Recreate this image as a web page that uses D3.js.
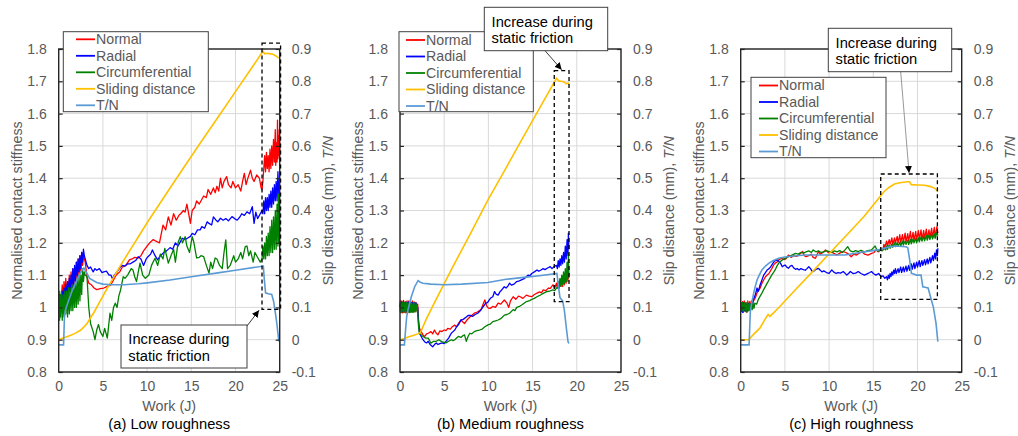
<!DOCTYPE html>
<html><head><meta charset="utf-8">
<script src="https://cdn.jsdelivr.net/npm/d3@7"></script>
<style>body{margin:0;background:#fff;} text{font-family:"Liberation Sans",Arial,sans-serif;}</style>
</head><body><svg id="c" width="1018" height="436"></svg>
<script>
// ---------- tick labels / categories ----------
const xTicks = [0, 5, 10, 15, 20, 25];
const leftTicks = [0.8, 0.9, 1.0, 1.1, 1.2, 1.3, 1.4, 1.5, 1.6, 1.7, 1.8];
const rightTicks = [-0.1, 0, 0.1, 0.2, 0.3, 0.4, 0.5, 0.6, 0.7, 0.8, 0.9];
const seriesNames = ["Normal", "Radial", "Circumferential", "Sliding distance", "T/N"];
const seriesColors = ["#FF0000", "#0000FF", "#008000", "#FFC000", "#5B9BD5"];
const captions = ["(a) Low roughness", "(b) Medium roughness", "(c) High roughness"];

// ---------- (a) Low roughness ----------
const aNormal = [[0.3,1.03],[0.4,1.07],[0.5,1.02],[0.6,1.08],[0.7,1.04],[0.8,1.09],[0.9,1.03],[1.0,1.08],[1.1,1.05],[1.2,1.10],[1.3,1.05],[1.4,1.11],[1.5,1.06],[1.6,1.12],[1.7,1.07],[1.8,1.12],[1.9,1.08],[2.0,1.14],[2.1,1.09],[2.2,1.15],[2.3,1.10],[2.4,1.16],[2.5,1.11],[2.6,1.17],[2.7,1.13],[2.8,1.16],[2.9,1.15],[3.0,1.14],[3.2,1.095],[3.4,1.075],[3.7,1.07],[4.0,1.06],[4.3,1.055],[4.7,1.058],[5.1,1.06],[5.5,1.065],[5.9,1.07],[6.2,1.085],[6.5,1.1],[6.9,1.11],[7.2,1.125],[7.6,1.13],[8.0,1.147],[8.3,1.15],[8.6,1.155],[9.0,1.153],[9.3,1.16],[9.6,1.175],[10.0,1.19],[10.3,1.2],[10.7,1.21],[11.0,1.205],[11.4,1.2],[11.8,1.255],[12.1,1.24],[12.4,1.28],[12.7,1.255],[13.0,1.29],[13.3,1.27],[13.6,1.285],[13.8,1.29],[14.1,1.30],[14.3,1.295],[14.5,1.32],[14.7,1.29],[14.9,1.26],[15.1,1.30],[15.4,1.31],[15.6,1.33],[15.9,1.32],[16.1,1.33],[16.4,1.345],[16.7,1.34],[16.9,1.365],[17.2,1.35],[17.5,1.37],[17.7,1.355],[17.9,1.375],[18.1,1.36],[18.3,1.40],[18.5,1.37],[18.7,1.39],[19.0,1.405],[19.2,1.38],[19.5,1.37],[19.7,1.39],[20.0,1.37],[20.3,1.38],[20.6,1.36],[20.8,1.39],[21.0,1.415],[21.2,1.38],[21.4,1.40],[21.7,1.425],[21.9,1.40],[22.1,1.39],[22.4,1.41],[22.7,1.40],[22.9,1.37],[23.0,1.365],[23.1,1.39],[23.2,1.43],[23.3,1.47],[23.4,1.42],[23.5,1.48],[23.6,1.43],[23.7,1.47],[23.8,1.42],[23.9,1.49],[24.0,1.43],[24.1,1.50],[24.2,1.44],[24.3,1.52],[24.4,1.45],[24.5,1.55],[24.55,1.44],[24.6,1.51],[24.7,1.45],[24.75,1.58],[24.8,1.46],[24.85,1.53],[24.9,1.47],[24.95,1.55],[25.0,1.48]];
const aRadial = [[0.3,1.02],[0.4,1.05],[0.5,1.01],[0.6,1.06],[0.7,1.03],[0.8,1.07],[0.9,1.03],[1.0,1.08],[1.1,1.04],[1.2,1.09],[1.3,1.05],[1.4,1.10],[1.5,1.06],[1.6,1.12],[1.7,1.07],[1.8,1.13],[1.9,1.08],[2.0,1.14],[2.1,1.10],[2.2,1.15],[2.3,1.11],[2.4,1.16],[2.5,1.12],[2.6,1.17],[2.7,1.14],[2.8,1.18],[2.9,1.16],[3.0,1.15],[3.2,1.13],[3.4,1.12],[3.6,1.125],[3.9,1.11],[4.1,1.12],[4.3,1.115],[4.6,1.12],[4.9,1.108],[5.1,1.11],[5.4,1.112],[5.7,1.10],[5.9,1.10],[6.1,1.088],[6.3,1.10],[6.6,1.11],[7.0,1.126],[7.2,1.13],[7.5,1.128],[7.8,1.135],[8.1,1.135],[8.4,1.14],[8.7,1.145],[9.0,1.157],[9.3,1.15],[9.6,1.13],[9.9,1.15],[10.1,1.157],[10.4,1.165],[10.6,1.178],[10.9,1.16],[11.2,1.147],[11.5,1.16],[11.9,1.17],[12.2,1.175],[12.6,1.185],[12.9,1.18],[13.2,1.20],[13.5,1.19],[13.8,1.205],[14.0,1.214],[14.3,1.21],[14.6,1.215],[14.9,1.22],[15.1,1.229],[15.4,1.225],[15.7,1.24],[16.0,1.24],[16.2,1.25],[16.5,1.245],[16.8,1.265],[17.0,1.26],[17.3,1.255],[17.5,1.28],[17.8,1.27],[18.0,1.265],[18.3,1.276],[18.6,1.27],[18.9,1.275],[19.2,1.268],[19.6,1.281],[19.9,1.275],[20.2,1.27],[20.5,1.28],[20.7,1.29],[21.0,1.285],[21.3,1.296],[21.6,1.29],[21.9,1.312],[22.1,1.26],[22.3,1.295],[22.5,1.275],[22.8,1.29],[23.0,1.30],[23.1,1.29],[23.2,1.33],[23.3,1.29],[23.4,1.34],[23.5,1.30],[23.6,1.34],[23.7,1.30],[23.8,1.35],[23.9,1.31],[24.0,1.36],[24.1,1.31],[24.2,1.37],[24.3,1.32],[24.4,1.38],[24.5,1.33],[24.6,1.39],[24.7,1.33],[24.8,1.42],[24.9,1.35],[25.0,1.38]];
const aCirc = [[0.0,1.0],[0.05,1.05],[0.1,0.96],[0.15,1.04],[0.2,0.97],[0.3,1.05],[0.4,0.96],[0.5,1.04],[0.6,0.97],[0.7,1.05],[0.8,0.98],[0.9,1.05],[1.0,0.97],[1.1,1.06],[1.2,0.98],[1.3,1.06],[1.4,0.99],[1.5,1.07],[1.6,0.99],[1.7,1.07],[1.8,1.00],[1.9,1.08],[2.0,1.00],[2.1,1.09],[2.2,1.01],[2.3,1.10],[2.4,1.02],[2.5,1.10],[2.6,1.04],[2.7,1.12],[2.8,1.08],[2.9,1.11],[3.0,1.10],[3.2,1.095],[3.4,1.0],[3.6,0.95],[3.9,0.925],[4.1,0.9],[4.3,0.93],[4.5,0.947],[4.7,0.925],[5.0,0.91],[5.2,0.935],[5.5,0.905],[5.8,0.982],[6.0,0.96],[6.2,1.0],[6.4,1.013],[6.6,1.0],[6.8,1.035],[7.0,1.054],[7.3,1.095],[7.5,1.09],[7.8,1.10],[8.2,1.12],[8.4,1.116],[8.6,1.095],[8.8,1.08],[9.0,1.11],[9.2,1.137],[9.5,1.10],[9.8,1.09],[10.2,1.10],[10.5,1.13],[10.9,1.152],[11.2,1.13],[11.5,1.165],[11.8,1.15],[12.0,1.183],[12.2,1.16],[12.4,1.137],[12.7,1.16],[13.0,1.18],[13.2,1.14],[13.5,1.20],[13.75,1.219],[14.0,1.20],[14.3,1.219],[14.5,1.19],[14.8,1.17],[15.1,1.219],[15.3,1.20],[15.6,1.153],[15.9,1.155],[16.1,1.16],[16.4,1.157],[16.7,1.13],[17.0,1.106],[17.2,1.14],[17.4,1.12],[17.7,1.153],[17.9,1.15],[18.2,1.13],[18.5,1.12],[18.7,1.17],[18.9,1.209],[19.1,1.12],[19.4,1.13],[19.8,1.16],[20.0,1.14],[20.3,1.15],[20.6,1.17],[20.8,1.15],[21.1,1.188],[21.3,1.19],[21.5,1.16],[21.7,1.175],[22.0,1.14],[22.2,1.17],[22.4,1.16],[22.6,1.15],[22.8,1.14],[23.0,1.15],[23.1,1.19],[23.2,1.15],[23.3,1.20],[23.4,1.15],[23.5,1.22],[23.6,1.16],[23.7,1.23],[23.8,1.16],[23.9,1.25],[24.0,1.17],[24.1,1.27],[24.2,1.17],[24.3,1.28],[24.4,1.18],[24.5,1.30],[24.6,1.18],[24.7,1.32],[24.8,1.19],[24.85,1.35],[24.9,1.20],[25.0,1.27]];
const aSlide = [[0,0.0],[0.5,0.005],[1,0.01],[1.5,0.015],[2,0.022],[2.5,0.03],[2.8,0.038],[3.2,0.05],[3.6,0.068],[4.0,0.085],[4.5,0.11],[5.0,0.135],[5.5,0.16],[6.0,0.183],[6.5,0.206],[7,0.23],[8,0.274],[9,0.318],[10,0.362],[12,0.445],[14,0.527],[16,0.608],[18,0.688],[20,0.768],[22,0.848],[23.1,0.893],[23.3,0.885],[23.6,0.887],[24.0,0.885],[24.3,0.883],[24.6,0.878],[24.9,0.872]];
const aTN = [[0,-0.016],[0.55,-0.016],[0.65,0.07],[0.8,0.095],[1.1,0.12],[1.5,0.15],[2.0,0.18],[2.5,0.21],[2.85,0.222],[3.1,0.21],[3.5,0.19],[4.3,0.177],[5.0,0.172],[5.9,0.17],[7.4,0.17],[9,0.173],[10,0.176],[12.6,0.185],[15,0.195],[18,0.207],[20,0.215],[23.15,0.228],[23.25,0.19],[23.4,0.145],[23.7,0.142],[24.1,0.14],[24.3,0.12],[24.5,0.085],[24.7,0.045],[24.9,-0.005]];

// ---------- (b) Medium roughness ----------
const bNormal = [[0,1.0],[0.05,1.02],[0.1,0.985],[0.2,1.02],[0.3,0.983],[0.4,1.022],[0.5,0.985],[0.6,1.018],[0.7,0.983],[0.8,1.02],[0.9,0.985],[1.0,1.02],[1.1,0.984],[1.2,1.018],[1.3,0.986],[1.4,1.02],[1.5,0.985],[1.6,1.017],[1.7,0.987],[1.8,1.015],[1.9,0.99],[2.0,1.01],[2.1,0.96],[2.2,0.935],[2.4,0.925],[2.6,0.915],[2.8,0.91],[3.0,0.918],[3.2,0.92],[3.5,0.925],[3.7,0.918],[3.9,0.93],[4.1,0.92],[4.3,0.915],[4.5,0.927],[4.7,0.925],[5.0,0.93],[5.2,0.928],[5.4,0.935],[5.7,0.933],[5.9,0.94],[6.2,0.945],[6.4,0.94],[6.6,0.95],[6.9,0.961],[7.1,0.955],[7.3,0.95],[7.6,0.962],[7.9,0.97],[8.1,0.975],[8.4,0.982],[8.7,0.985],[9.0,0.99],[9.2,0.995],[9.4,1.01],[9.6,1.023],[9.8,1.005],[10.0,0.998],[10.2,0.997],[10.5,1.003],[10.8,1.0],[11.1,1.013],[11.4,1.01],[11.8,1.023],[12.1,1.013],[12.3,1.0],[12.5,1.02],[12.8,1.033],[13.1,1.025],[13.4,1.035],[13.6,1.033],[13.9,1.028],[14.3,1.038],[14.6,1.035],[14.9,1.033],[15.2,1.04],[15.5,1.044],[15.8,1.048],[16.0,1.045],[16.2,1.054],[16.5,1.052],[16.8,1.06],[17.0,1.059],[17.3,1.07],[17.5,1.06],[17.7,1.075],[17.8,1.06],[17.9,1.08],[18.0,1.06],[18.1,1.085],[18.2,1.065],[18.3,1.09],[18.4,1.065],[18.5,1.095],[18.6,1.07],[18.7,1.10],[18.8,1.075],[18.9,1.11],[19.0,1.08],[19.05,1.116],[19.1,1.09]];
const bRadial = [[0,1.0],[0.05,1.015],[0.1,0.99],[0.2,1.016],[0.3,0.988],[0.4,1.017],[0.5,0.99],[0.6,1.015],[0.7,0.988],[0.8,1.016],[0.9,0.99],[1.0,1.017],[1.1,0.989],[1.2,1.016],[1.3,0.99],[1.4,1.015],[1.5,0.99],[1.6,1.014],[1.7,0.99],[1.8,1.015],[1.9,0.995],[2.0,1.0],[2.1,0.95],[2.2,0.92],[2.4,0.91],[2.6,0.9],[2.8,0.893],[3.0,0.89],[3.2,0.895],[3.4,0.885],[3.7,0.878],[3.9,0.885],[4.1,0.89],[4.3,0.885],[4.5,0.888],[4.8,0.89],[5.0,0.888],[5.2,0.895],[5.5,0.905],[5.8,0.92],[6.0,0.925],[6.2,0.93],[6.4,0.94],[6.6,0.946],[6.9,0.961],[7.1,0.962],[7.3,0.966],[7.5,0.97],[7.7,0.975],[8.0,0.975],[8.2,0.972],[8.5,0.978],[8.8,0.982],[9.1,0.99],[9.4,1.002],[9.7,1.013],[9.9,1.015],[10.1,1.023],[10.3,1.03],[10.5,1.033],[10.7,1.049],[10.9,1.04],[11.1,1.038],[11.3,1.048],[11.5,1.054],[11.8,1.064],[12.0,1.06],[12.2,1.066],[12.4,1.075],[12.6,1.069],[12.9,1.072],[13.2,1.08],[13.5,1.082],[13.8,1.086],[14.1,1.09],[14.3,1.095],[14.5,1.1],[14.7,1.098],[14.9,1.105],[15.2,1.11],[15.5,1.116],[15.7,1.112],[15.9,1.115],[16.2,1.12],[16.4,1.117],[16.7,1.122],[17.0,1.126],[17.2,1.12],[17.5,1.128],[17.7,1.13],[17.8,1.12],[17.9,1.145],[18.0,1.125],[18.1,1.15],[18.2,1.13],[18.3,1.16],[18.4,1.135],[18.5,1.17],[18.6,1.14],[18.7,1.19],[18.8,1.15],[18.9,1.21],[19.0,1.16],[19.05,1.23],[19.1,1.18]];
const bCirc = [[0,1.0],[0.05,0.985],[0.1,1.015],[0.2,0.984],[0.3,1.016],[0.4,0.985],[0.5,1.015],[0.6,0.984],[0.7,1.016],[0.8,0.985],[0.9,1.015],[1.0,0.985],[1.1,1.016],[1.2,0.985],[1.3,1.015],[1.4,0.985],[1.5,1.014],[1.6,0.986],[1.7,1.014],[1.8,0.986],[1.9,1.01],[2.0,0.99],[2.1,0.94],[2.2,0.92],[2.4,0.915],[2.6,0.91],[2.9,0.905],[3.2,0.905],[3.5,0.889],[3.8,0.895],[4.1,0.895],[4.4,0.9],[4.7,0.894],[5.0,0.892],[5.2,0.89],[5.5,0.895],[5.8,0.9],[6.0,0.897],[6.2,0.9],[6.4,0.905],[6.6,0.91],[6.9,0.907],[7.1,0.912],[7.3,0.915],[7.5,0.895],[7.7,0.91],[7.9,0.92],[8.1,0.918],[8.4,0.925],[8.7,0.928],[9.0,0.93],[9.3,0.933],[9.6,0.94],[9.95,0.946],[10.2,0.948],[10.5,0.956],[10.8,0.958],[11.1,0.961],[11.4,0.965],[11.8,0.976],[12.1,0.978],[12.4,0.982],[12.8,0.993],[13.0,0.99],[13.2,1.0],[13.5,1.003],[13.8,1.008],[14.0,1.012],[14.3,1.018],[14.6,1.02],[14.9,1.025],[15.2,1.028],[15.5,1.033],[15.8,1.037],[16.0,1.04],[16.3,1.045],[16.6,1.049],[16.9,1.05],[17.3,1.054],[17.5,1.052],[17.7,1.06],[17.8,1.06],[17.9,1.08],[18.0,1.06],[18.1,1.09],[18.2,1.065],[18.3,1.10],[18.4,1.07],[18.5,1.11],[18.6,1.075],[18.7,1.12],[18.8,1.08],[18.9,1.14],[19.0,1.09],[19.05,1.167],[19.1,1.10]];
const bSlide = [[0,0],[0.5,0.004],[1.0,0.009],[1.5,0.013],[2.0,0.018],[2.3,0.022],[3,0.065],[4,0.12],[4.9,0.168],[6,0.227],[8,0.33],[10,0.435],[12,0.532],[14,0.63],[16,0.727],[17.7,0.809],[17.85,0.805],[18.0,0.8],[18.3,0.8],[18.6,0.797],[18.8,0.792],[19.0,0.795],[19.1,0.79]];
const bTN = [[0,-0.016],[0.5,-0.016],[0.6,0.02],[0.75,0.07],[0.9,0.092],[1.28,0.133],[1.66,0.164],[2.04,0.183],[2.3,0.178],[2.6,0.175],[3.5,0.172],[5,0.17],[7,0.172],[9.95,0.177],[12,0.187],[14,0.193],[16,0.199],[17.75,0.205],[17.95,0.16],[18.1,0.13],[18.4,0.12],[18.6,0.09],[18.8,0.04],[19.0,-0.005],[19.1,-0.012]];

// ---------- (c) High roughness ----------
const cNormal = [[0,1.0],[0.05,1.015],[0.1,0.99],[0.2,1.018],[0.3,0.985],[0.4,1.02],[0.5,0.988],[0.6,1.015],[0.7,0.985],[0.8,1.02],[0.9,0.99],[1.0,1.018],[1.1,0.995],[1.2,1.02],[1.3,1.005],[1.45,1.02],[1.66,1.03],[1.85,1.045],[2.04,1.054],[2.2,1.06],[2.4,1.075],[2.6,1.085],[2.8,1.095],[3.0,1.1],[3.2,1.105],[3.4,1.115],[3.54,1.121],[3.7,1.13],[3.9,1.137],[4.1,1.14],[4.3,1.147],[4.5,1.15],[4.7,1.152],[4.9,1.148],[5.1,1.15],[5.4,1.162],[5.7,1.155],[6.0,1.16],[6.3,1.158],[6.6,1.162],[6.8,1.168],[7.0,1.173],[7.2,1.16],[7.4,1.157],[7.7,1.16],[8.0,1.165],[8.2,1.155],[8.45,1.152],[8.8,1.173],[9.0,1.165],[9.3,1.17],[9.6,1.178],[9.9,1.17],[10.2,1.172],[10.5,1.168],[10.9,1.162],[11.2,1.168],[11.6,1.173],[11.9,1.17],[12.2,1.165],[12.5,1.157],[12.8,1.165],[13.1,1.162],[13.4,1.168],[13.7,1.172],[14.0,1.165],[14.4,1.162],[14.8,1.167],[15.1,1.17],[15.3,1.178],[15.6,1.172],[15.9,1.183],[16.1,1.18],[16.2,1.195],[16.3,1.185],[16.5,1.205],[16.6,1.19],[16.8,1.21],[16.9,1.195],[17.1,1.215],[17.2,1.195],[17.4,1.215],[17.5,1.198],[17.7,1.22],[17.8,1.2],[18.0,1.225],[18.1,1.2],[18.3,1.225],[18.4,1.2],[18.6,1.23],[18.7,1.203],[18.9,1.228],[19.0,1.205],[19.2,1.235],[19.3,1.205],[19.5,1.232],[19.6,1.207],[19.8,1.235],[19.9,1.208],[20.1,1.238],[20.2,1.21],[20.4,1.24],[20.5,1.21],[20.7,1.238],[20.8,1.212],[21.0,1.242],[21.1,1.213],[21.3,1.24],[21.4,1.215],[21.6,1.245],[21.7,1.215],[21.9,1.248],[22.0,1.218],[22.2,1.25],[22.3,1.23]];
const cRadial = [[0,1.0],[0.05,0.988],[0.1,1.012],[0.2,0.985],[0.3,1.015],[0.4,0.99],[0.5,1.013],[0.6,0.987],[0.7,1.01],[0.8,0.99],[0.9,1.012],[1.0,0.992],[1.1,1.01],[1.2,1.0],[1.28,1.013],[1.45,1.025],[1.66,1.04],[1.85,1.06],[2.0,1.05],[2.2,1.07],[2.4,1.085],[2.6,1.1],[2.8,1.108],[3.0,1.116],[3.2,1.12],[3.4,1.126],[3.6,1.135],[3.77,1.142],[3.95,1.145],[4.15,1.147],[4.3,1.143],[4.5,1.137],[4.7,1.126],[4.9,1.13],[5.05,1.131],[5.2,1.125],[5.4,1.121],[5.6,1.128],[5.8,1.13],[6.0,1.122],[6.2,1.118],[6.4,1.12],[6.6,1.116],[6.8,1.12],[7.0,1.118],[7.3,1.115],[7.5,1.12],[7.7,1.126],[7.9,1.12],[8.1,1.111],[8.3,1.113],[8.5,1.118],[8.8,1.121],[9.0,1.115],[9.2,1.11],[9.4,1.113],[9.7,1.108],[10.0,1.105],[10.3,1.116],[10.5,1.11],[10.8,1.105],[11.0,1.108],[11.3,1.106],[11.6,1.111],[11.8,1.106],[12.0,1.1],[12.2,1.105],[12.4,1.111],[12.7,1.105],[13.0,1.106],[13.3,1.111],[13.6,1.105],[14.0,1.1],[14.3,1.104],[14.6,1.108],[14.8,1.111],[15.0,1.105],[15.3,1.1],[15.6,1.105],[15.9,1.095],[16.1,1.098],[16.3,1.09],[16.5,1.095],[16.6,1.085],[16.7,1.1],[16.8,1.09],[16.9,1.105],[17.0,1.095],[17.1,1.11],[17.2,1.1],[17.3,1.115],[17.4,1.105],[17.5,1.12],[17.6,1.105],[17.8,1.12],[17.9,1.108],[18.1,1.125],[18.2,1.108],[18.4,1.125],[18.5,1.11],[18.7,1.128],[18.8,1.112],[19.0,1.13],[19.1,1.115],[19.3,1.135],[19.4,1.118],[19.6,1.138],[19.7,1.12],[19.9,1.14],[20.0,1.125],[20.2,1.145],[20.3,1.126],[20.5,1.145],[20.6,1.13],[20.8,1.148],[20.9,1.132],[21.1,1.15],[21.2,1.135],[21.4,1.155],[21.5,1.138],[21.7,1.16],[21.8,1.145],[21.95,1.168],[22.05,1.15],[22.15,1.178],[22.25,1.16],[22.3,1.183]];
const cCirc = [[0,1.0],[0.05,1.012],[0.1,0.988],[0.2,1.015],[0.3,0.987],[0.4,1.014],[0.5,0.988],[0.6,1.015],[0.7,0.986],[0.8,1.014],[0.9,0.99],[1.0,1.013],[1.1,0.99],[1.2,1.012],[1.3,0.993],[1.4,1.013],[1.5,0.997],[1.6,1.013],[1.8,1.01],[2.0,1.025],[2.2,1.035],[2.4,1.044],[2.6,1.055],[2.8,1.065],[3.0,1.075],[3.2,1.085],[3.35,1.092],[3.5,1.1],[3.7,1.108],[3.9,1.116],[4.1,1.128],[4.3,1.137],[4.5,1.142],[4.7,1.147],[4.9,1.15],[5.05,1.152],[5.4,1.157],[5.8,1.162],[6.2,1.167],[6.5,1.165],[6.8,1.17],[7.1,1.168],[7.4,1.172],[7.7,1.175],[8.0,1.17],[8.2,1.178],[8.5,1.172],[8.8,1.175],[9.1,1.17],[9.4,1.172],[9.7,1.176],[10.0,1.173],[10.3,1.17],[10.6,1.175],[10.9,1.172],[11.2,1.176],[11.5,1.17],[11.8,1.178],[12.1,1.188],[12.4,1.175],[12.7,1.172],[13.0,1.176],[13.3,1.173],[13.6,1.177],[14.0,1.172],[14.4,1.176],[14.8,1.178],[15.2,1.19],[15.5,1.173],[15.8,1.178],[16.0,1.175],[16.3,1.183],[16.4,1.178],[16.5,1.19],[16.6,1.18],[16.8,1.193],[16.9,1.183],[17.1,1.196],[17.2,1.186],[17.4,1.2],[17.5,1.188],[17.7,1.2],[17.8,1.19],[18.0,1.202],[18.1,1.19],[18.3,1.205],[18.4,1.193],[18.6,1.205],[18.7,1.195],[18.9,1.208],[19.0,1.195],[19.2,1.21],[19.3,1.197],[19.5,1.212],[19.6,1.2],[19.8,1.213],[19.9,1.2],[20.1,1.215],[20.2,1.203],[20.4,1.218],[20.5,1.205],[20.7,1.22],[20.8,1.206],[21.0,1.222],[21.1,1.208],[21.3,1.224],[21.4,1.21],[21.6,1.226],[21.7,1.212],[21.9,1.228],[22.0,1.214],[22.2,1.232],[22.3,1.222]];
const cSlide = [[0,0],[0.9,0],[1.5,0.018],[2.15,0.035],[2.9,0.07],[3.1,0.078],[3.3,0.072],[3.6,0.08],[4.4,0.102],[6,0.149],[8,0.207],[10,0.266],[12,0.324],[14,0.383],[15.5,0.434],[16.2,0.458],[16.8,0.472],[17.4,0.482],[18.0,0.486],[18.9,0.489],[19.1,0.489],[19.3,0.48],[20.0,0.479],[20.8,0.478],[21.5,0.474],[22.0,0.468],[22.3,0.458]];
const cTN = [[0,-0.016],[0.95,-0.016],[1.05,0.06],[1.1,0.092],[1.3,0.12],[1.47,0.144],[1.65,0.165],[1.85,0.185],[2.1,0.2],[2.4,0.216],[2.8,0.228],[3.2,0.237],[3.7,0.245],[4.3,0.252],[5.0,0.256],[6,0.259],[7.3,0.262],[9,0.262],[10.5,0.262],[11.8,0.262],[13.5,0.27],[15.5,0.278],[16.5,0.285],[17.4,0.29],[18.7,0.288],[18.9,0.285],[19.1,0.25],[19.3,0.206],[19.9,0.2],[20.4,0.2],[20.6,0.164],[21.2,0.16],[21.5,0.13],[21.8,0.1],[22.1,0.05],[22.3,-0.006]];

// highlighted static-friction region per panel: [x0, x1, yBottom, yTop] (work, left-axis units)
const aRegion = [23.0, 25.1, 0.994, 1.818];
const bRegion = [17.45, 19.12, 1.018, 1.733];
const cRegion = [15.84, 22.25, 1.025, 1.413];
const noteText = ["Increase during", "static friction"];

// ---------- layout ----------
const svg = d3.select("#c");
const PL = [58.7, 400, 740.7], PW = 221, PT = 49, PH = 323;
const GREY = "#595959", FRAME = "#262626";
const legendLayout = [
  {bx:63.3, by:31.7, bw:145, bh:80, sx:76, first:39.3},
  {bx:399, by:31.7, bw:134.3, bh:80, sx:406, first:40},
  {bx:751, by:77.3, bw:135, bh:80.4, sx:759, first:85.5}
];
const noteLayout = [
  {x:121, y:325, w:126, h:43, ax:247, ay:326, tip:"bl", arrowColor:"#262626"},
  {x:484.3, y:7.3, w:123.4, h:43.4, ax:545, ay:50.7, tip:"top", arrowColor:"#262626"},
  {x:828.3, y:28.3, w:123.4, h:43.4, ax:900.7, ay:71.7, tip:"top", arrowColor:"#8c8c8c"}
];

const defs = svg.append("defs");
defs.append("marker").attr("id","arr").attr("viewBox","0 0 10 10").attr("refX",10).attr("refY",5)
  .attr("markerWidth",7).attr("markerHeight",7).attr("markerUnits","userSpaceOnUse").attr("orient","auto")
  .append("path").attr("d","M0,0 L10,5 L0,10 z").attr("fill","#000");

const panels = [
  {series:[aNormal,aRadial,aCirc], slide:aSlide, tn:aTN, region:aRegion},
  {series:[bNormal,bRadial,bCirc], slide:bSlide, tn:bTN, region:bRegion},
  {series:[cNormal,cRadial,cCirc], slide:cSlide, tn:cTN, region:cRegion}
];
const fmt = d => String(+d.toFixed(1));

panels.forEach((p, i) => {
  const L = PL[i];
  const x = d3.scaleLinear().domain([0, 25]).range([L, L + PW]);
  const yL = d3.scaleLinear().domain([0.8, 1.8]).range([PT + PH, PT]);
  const yR = d3.scaleLinear().domain([-0.1, 0.9]).range([PT + PH, PT]);
  const g = svg.append("g");

  // gridlines
  g.append("g").selectAll("line.h").data(leftTicks).join("line")
    .attr("x1", L).attr("x2", L + PW).attr("y1", d => yL(d)).attr("y2", d => yL(d))
    .attr("stroke", "#d9d9d9").attr("stroke-width", 1);
  g.append("g").selectAll("line.v").data(xTicks).join("line")
    .attr("x1", d => x(d)).attr("x2", d => x(d)).attr("y1", PT).attr("y2", PT + PH)
    .attr("stroke", "#d9d9d9").attr("stroke-width", 1);

  // series
  const lineL = d3.line().x(d => x(d[0])).y(d => yL(d[1]));
  const lineR = d3.line().x(d => x(d[0])).y(d => yR(d[1]));
  p.series.forEach((s, k) => {
    g.append("path").attr("d", lineL(s)).attr("fill", "none")
      .attr("stroke", seriesColors[k]).attr("stroke-width", 1.3).attr("stroke-linejoin", "round");
  });
  g.append("path").attr("d", lineR(p.slide)).attr("fill", "none").attr("stroke", seriesColors[3]).attr("stroke-width", 1.6);
  g.append("path").attr("d", lineR(p.tn)).attr("fill", "none").attr("stroke", seriesColors[4]).attr("stroke-width", 1.6);

  // frame
  g.append("rect").attr("x", L).attr("y", PT).attr("width", PW).attr("height", PH)
    .attr("fill", "none").attr("stroke", FRAME).attr("stroke-width", 1.4);

  // axes via d3
  const axL = d3.axisLeft(yL).tickValues(leftTicks).tickFormat(fmt).tickSize(-4).tickPadding(12);
  const axR = d3.axisRight(yR).tickValues(rightTicks).tickFormat(fmt).tickSize(-4).tickPadding(12);
  const axB = d3.axisBottom(x).tickValues(xTicks).tickFormat(d3.format("d")).tickSize(0).tickPadding(9);
  [[axL, `translate(${L},0)`], [axR, `translate(${L + PW},0)`], [axB, `translate(0,${PT + PH})`]].forEach(([ax, tr]) => {
    const a = g.append("g").attr("transform", tr).call(ax);
    a.select(".domain").remove();
    a.selectAll("line").attr("stroke", FRAME).attr("stroke-width", 1.2);
    a.selectAll("text").attr("fill", GREY).attr("font-size", 14).attr("font-family", '"Liberation Sans",Arial,sans-serif');
  });

  // axis titles
  g.append("text").attr("x", L + PW / 2).attr("y", 411).attr("text-anchor", "middle")
    .attr("fill", GREY).attr("font-size", 14.3).text("Work (J)");
  g.append("text").attr("transform", `translate(${L - 42},${PT + PH / 2}) rotate(-90)`)
    .attr("text-anchor", "middle").attr("dy", "0.35em").attr("fill", GREY).attr("font-size", 14.3)
    .text("Normalised contact stiffness");
  const rt = g.append("text").attr("transform", `translate(${L + PW + 48},${PT + PH / 2}) rotate(-90)`)
    .attr("text-anchor", "middle").attr("dy", "0.35em").attr("fill", GREY).attr("font-size", 14.3);
  rt.append("tspan").text("Slip distance (mm), ");
  rt.append("tspan").attr("font-style", "italic").text("T/N");
  g.append("text").attr("x", L + PW / 2).attr("y", 429).attr("text-anchor", "middle")
    .attr("fill", "#000").attr("font-size", 14.7).text(captions[i]);

  // legend
  const lg = legendLayout[i];
  g.append("rect").attr("x", lg.bx).attr("y", lg.by).attr("width", lg.bw).attr("height", lg.bh)
    .attr("fill", "#fff").attr("stroke", "#404040").attr("stroke-width", 1);
  seriesNames.forEach((nm, k) => {
    const yy = lg.first + k * 16.5;
    g.append("line").attr("x1", lg.sx).attr("x2", lg.sx + 19).attr("y1", yy).attr("y2", yy)
      .attr("stroke", seriesColors[k]).attr("stroke-width", 1.8);
    g.append("text").attr("x", lg.sx + 20).attr("y", yy).attr("dy", "0.35em")
      .attr("fill", GREY).attr("font-size", 14.2).text(nm);
  });

  // highlighted region (dashed)
  const r = p.region;
  const rx0 = x(r[0]), rx1 = x(r[1]), ry0 = yL(r[3]), ry1 = yL(r[2]);
  g.append("rect").attr("x", rx0).attr("y", ry0).attr("width", rx1 - rx0).attr("height", ry1 - ry0)
    .attr("fill", "none").attr("stroke", "#000").attr("stroke-width", 1.3).attr("stroke-dasharray", "4,3");

  // annotation
  const nl = noteLayout[i];
  const tip = nl.tip === "bl" ? [rx0 - 3, ry1 + 1] : [(rx0 + rx1) / 2, ry0 - 1];
  g.append("line").attr("x1", nl.ax).attr("y1", nl.ay).attr("x2", tip[0]).attr("y2", tip[1])
    .attr("stroke", nl.arrowColor).attr("stroke-width", 0.9).attr("marker-end", "url(#arr)");
  g.append("rect").attr("x", nl.x).attr("y", nl.y).attr("width", nl.w).attr("height", nl.h)
    .attr("fill", "#fff").attr("stroke", "#404040").attr("stroke-width", 1);
  noteText.forEach((t, k) => {
    g.append("text").attr("x", nl.x + 7.3).attr("y", nl.y + 14.3 + k * 16.7).attr("dy", "0.35em")
      .attr("fill", "#000").attr("font-size", 14.7).text(t);
  });
});
</script></body></html>
